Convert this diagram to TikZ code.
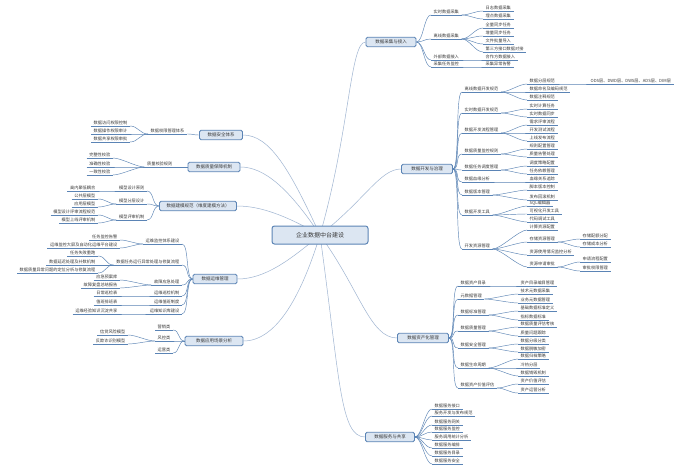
\documentclass[tikz,border=0pt]{standalone}
\usepackage{fontspec}
\setmainfont{Noto Sans CJK SC}
\usetikzlibrary{backgrounds}
\definecolor{lnblue}{HTML}{5B84B5}
\definecolor{boxfill}{HTML}{DCE6F2}
\definecolor{mlinkc}{HTML}{9FB5D1}
\definecolor{txtc}{HTML}{3A3A3A}
\tikzset{
  itm/.style={inner xsep=2.5pt, inner ysep=0.9pt, font=\fontsize{4.2}{5}\selectfont, text=txtc},
  ul/.style={draw=lnblue, line width=0.6pt},
  con/.style={draw=lnblue, line width=0.45pt},
  mbox/.style={draw=lnblue, fill=boxfill, rounded corners=1.5pt, line width=0.8pt,
    font=\fontsize{4.5}{5}\selectfont, text=txtc, minimum height=9.5pt, inner sep=1pt},
  rootbox/.style={draw=lnblue, fill=boxfill, rounded corners=2.5pt, line width=1pt,
    font=\fontsize{6}{7}\selectfont, text=txtc, minimum height=18pt, minimum width=96pt},
  mlk/.style={draw=mlinkc, line width=0.5pt}
}
\newcommand\itR[4]{\node[itm,anchor=south west] (#1) at (#2,#3) {#4};\draw[ul] (#1.south west) -- (#1.south east);}
\newcommand\itL[4]{\node[itm,anchor=south east] (#1) at (#2,#3) {#4};\draw[ul] (#1.south west) -- (#1.south east);}
\newcommand\cnR[2]{\draw[con] (#1.south east) .. controls +(8,0) and +(-8,0) .. (#2.south west);}
\newcommand\cnRB[2]{\draw[con] (#1.east) .. controls +(7,0) and +(-7,0) .. (#2.south west);}
\newcommand\cnL[2]{\draw[con] (#1.south west) .. controls +(-8,0) and +(8,0) .. (#2.south east);}
\newcommand\cnLB[2]{\draw[con] (#1.west) .. controls +(-7,0) and +(7,0) .. (#2.south east);}
\begin{document}
\begin{tikzpicture}[x=1pt,y=-1pt]
\useasboundingbox (0,0) rectangle (700,470);
% root and main boxes
\node[rootbox] (root) at (320,235) {企业数据中台建设};
\node[mbox,minimum width=50pt] (b1) at (391,42) {数据采集与接入};
\node[mbox,minimum width=51pt] (b2) at (427,169) {数据开发与治理};
\node[mbox,minimum width=51pt] (b3) at (423,338) {数据资产化管理};
\node[mbox,minimum width=49pt] (b4) at (390,437) {数据服务与共享};
\node[mbox,minimum width=43pt] (b5) at (221,135) {数据安全体系};
\node[mbox,minimum width=52pt] (b6) at (214,167) {数据质量保障机制};
\node[mbox,minimum width=77pt] (b7) at (198,206) {数据建模规范（维度建模方法）};
\node[mbox,minimum width=44pt] (b8) at (215,279) {数据运维管理};
\node[mbox,minimum width=58pt] (b9) at (214,341) {数据应用场景分析};
% B1
\itR{b1c1}{431}{15}{实时数据采集}
\itR{b1c1a}{483}{11}{日志数据采集}
\itR{b1c1b}{483}{19}{埋点数据采集}
\itR{b1c2}{431}{39}{离线数据采集}
\itR{b1c2a}{483}{28}{全量同步任务}
\itR{b1c2b}{483}{36}{增量同步任务}
\itR{b1c2c}{483}{44}{文件批量导入}
\itR{b1c2d}{483}{52}{第三方接口数据对接}
\itR{b1c3}{431}{60}{外部数据接入}
\itR{b1c3a}{483}{60}{合作方数据接入}
\itR{b1c4}{431}{67}{采集任务监控}
\itR{b1c4a}{483}{67}{采集异常告警}
\cnRB{b1}{b1c1}\cnRB{b1}{b1c2}\cnRB{b1}{b1c3}\cnRB{b1}{b1c4}
\cnR{b1c1}{b1c1a}\cnR{b1c1}{b1c1b}
\cnR{b1c2}{b1c2a}\cnR{b1c2}{b1c2b}\cnR{b1c2}{b1c2c}\cnR{b1c2}{b1c2d}
\cnR{b1c3}{b1c3a}\cnR{b1c4}{b1c4a}
% B2
\itR{b2c1}{462}{92}{离线数据开发规范}
\itR{b2c1a}{527}{84}{数据分层规范}
\itR{b2c1b}{527}{92}{数据命名及编码规范}
\itR{b2c1c}{527}{100}{数据注释规范}
\itR{b2c1ax}{588}{84}{ODS层、DWD层、DWS层、ADS层、DIM层}
\itR{b2c2}{462}{113}{实时数据开发规范}
\itR{b2c2a}{527}{109}{实时计算任务}
\itR{b2c2b}{527}{117}{实时数据同步}
\itR{b2c3}{462}{133}{数据开发流程管理}
\itR{b2c3a}{527}{125}{需求评审流程}
\itR{b2c3b}{527}{133}{开发测试流程}
\itR{b2c3c}{527}{141}{上线发布流程}
\itR{b2c4}{462}{154}{数据质量监控规则}
\itR{b2c4a}{527}{149}{规则配置管理}
\itR{b2c4b}{527}{157}{质量告警处理}
\itR{b2c5}{462}{170}{数据任务调度管理}
\itR{b2c5a}{527}{166}{调度策略配置}
\itR{b2c5b}{527}{174}{任务依赖管理}
\itR{b2c6}{462}{182}{数据血缘分析}
\itR{b2c6a}{527}{182}{血缘关系追踪}
\itR{b2c7}{462}{195}{数据版本管理}
\itR{b2c7a}{527}{190}{脚本版本控制}
\itR{b2c7b}{527}{200}{发布回滚机制}
\itR{b2c8}{462}{215}{数据开发工具}
\itR{b2c8a}{527}{206}{SQL编辑器}
\itR{b2c8b}{527}{214}{可视化开发工具}
\itR{b2c8c}{527}{222}{代码调试工具}
\itR{b2c9}{462}{249}{开发资源管理}
\itR{b2c9a}{527}{230}{计算资源配置}
\itR{b2c9b}{527}{242}{存储资源管理}
\itR{b2c9ba}{580}{239}{存储配额分配}
\itR{b2c9bb}{580}{247}{存储成本分析}
\itR{b2c9c}{527}{255}{资源使用情况监控分析}
\itR{b2c9d}{527}{267}{资源申请审批}
\itR{b2c9da}{580}{262}{申请流程配置}
\itR{b2c9db}{580}{271}{审批权限管理}
\cnRB{b2}{b2c1}\cnRB{b2}{b2c2}\cnRB{b2}{b2c3}\cnRB{b2}{b2c4}\cnRB{b2}{b2c5}
\cnRB{b2}{b2c6}\cnRB{b2}{b2c7}\cnRB{b2}{b2c8}\cnRB{b2}{b2c9}
\cnR{b2c1}{b2c1a}\cnR{b2c1}{b2c1b}\cnR{b2c1}{b2c1c}\cnR{b2c1a}{b2c1ax}
\cnR{b2c2}{b2c2a}\cnR{b2c2}{b2c2b}
\cnR{b2c3}{b2c3a}\cnR{b2c3}{b2c3b}\cnR{b2c3}{b2c3c}
\cnR{b2c4}{b2c4a}\cnR{b2c4}{b2c4b}
\cnR{b2c5}{b2c5a}\cnR{b2c5}{b2c5b}
\cnR{b2c6}{b2c6a}
\cnR{b2c7}{b2c7a}\cnR{b2c7}{b2c7b}
\cnR{b2c8}{b2c8a}\cnR{b2c8}{b2c8b}\cnR{b2c8}{b2c8c}
\cnR{b2c9}{b2c9a}\cnR{b2c9}{b2c9b}\cnR{b2c9}{b2c9c}\cnR{b2c9}{b2c9d}
\cnR{b2c9b}{b2c9ba}\cnR{b2c9b}{b2c9bb}\cnR{b2c9d}{b2c9da}\cnR{b2c9d}{b2c9db}
% B3
\itR{b3c1}{458}{286}{数据资产目录}
\itR{b3c1a}{518}{286}{资产目录编目管理}
\itR{b3c2}{458}{299}{元数据管理}
\itR{b3c2a}{518}{294}{技术元数据采集}
\itR{b3c2b}{518}{303}{业务元数据管理}
\itR{b3c3}{458}{315}{数据标准管理}
\itR{b3c3a}{518}{311}{基础数据标准定义}
\itR{b3c3b}{518}{320}{指标数据标准}
\itR{b3c4}{458}{331}{数据质量管理}
\itR{b3c4a}{518}{327}{数据质量评估考核}
\itR{b3c4b}{518}{336}{质量问题跟踪}
\itR{b3c5}{458}{348}{数据安全管理}
\itR{b3c5a}{518}{344}{数据分级分类}
\itR{b3c5b}{518}{352}{数据脱敏加密}
\itR{b3c6}{458}{368}{数据生命周期}
\itR{b3c6a}{518}{359}{数据归档策略}
\itR{b3c6b}{518}{368}{冷热分层}
\itR{b3c6c}{518}{376}{数据销毁机制}
\itR{b3c7}{458}{388}{数据资产价值评估}
\itR{b3c7a}{518}{384}{资产价值评估}
\itR{b3c7b}{518}{393}{资产运营分析}
\cnRB{b3}{b3c1}\cnRB{b3}{b3c2}\cnRB{b3}{b3c3}\cnRB{b3}{b3c4}\cnRB{b3}{b3c5}\cnRB{b3}{b3c6}\cnRB{b3}{b3c7}
\cnR{b3c1}{b3c1a}
\cnR{b3c2}{b3c2a}\cnR{b3c2}{b3c2b}
\cnR{b3c3}{b3c3a}\cnR{b3c3}{b3c3b}
\cnR{b3c4}{b3c4a}\cnR{b3c4}{b3c4b}
\cnR{b3c5}{b3c5a}\cnR{b3c5}{b3c5b}
\cnR{b3c6}{b3c6a}\cnR{b3c6}{b3c6b}\cnR{b3c6}{b3c6c}
\cnR{b3c7}{b3c7a}\cnR{b3c7}{b3c7b}
% B4
\itR{b4c1}{432}{409}{数据服务接口}
\itR{b4c2}{432}{416}{服务开发与发布规范}
\itR{b4c3}{432}{425}{数据服务网关}
\itR{b4c4}{432}{432}{数据服务监控}
\itR{b4c5}{432}{440}{服务调用统计分析}
\itR{b4c6}{432}{448}{数据服务编排}
\itR{b4c7}{432}{456}{数据服务目录}
\itR{b4c8}{432}{464}{数据服务安全}
\cnRB{b4}{b4c1}\cnRB{b4}{b4c2}\cnRB{b4}{b4c3}\cnRB{b4}{b4c4}
\cnRB{b4}{b4c5}\cnRB{b4}{b4c6}\cnRB{b4}{b4c7}\cnRB{b4}{b4c8}
% B5
\itL{b5c1}{187}{134}{数据权限管理体系}
\itL{b5c1a}{130}{126}{数据访问权限控制}
\itL{b5c1b}{130}{134}{数据操作权限审计}
\itL{b5c1c}{130}{142}{数据共享权限审批}
\cnLB{b5}{b5c1}
\cnL{b5c1}{b5c1a}\cnL{b5c1}{b5c1b}\cnL{b5c1}{b5c1c}
% B6
\itL{b6c1}{175}{167}{质量校验规则}
\itL{b6c1a}{113}{158}{完整性校验}
\itL{b6c1b}{113}{167}{准确性校验}
\itL{b6c1c}{113}{175}{一致性校验}
\cnLB{b6}{b6c1}
\cnL{b6c1}{b6c1a}\cnL{b6c1}{b6c1b}\cnL{b6c1}{b6c1c}
% B7
\itL{b7c1}{147}{191}{模型设计原则}
\itL{b7c1a}{98}{191}{高内聚低耦合}
\itL{b7c2}{147}{204}{模型分层设计}
\itL{b7c2a}{98}{199}{公共层模型}
\itL{b7c2b}{98}{207}{应用层模型}
\itL{b7c3}{147}{220}{模型评审机制}
\itL{b7c3a}{98}{215}{模型设计评审流程规范}
\itL{b7c3b}{98}{223}{模型上线评审机制}
\cnLB{b7}{b7c1}\cnLB{b7}{b7c2}\cnLB{b7}{b7c3}
\cnL{b7c1}{b7c1a}\cnL{b7c2}{b7c2a}\cnL{b7c2}{b7c2b}\cnL{b7c3}{b7c3a}\cnL{b7c3}{b7c3b}
% B8
\itL{b8c1}{182}{244}{运维监控体系建设}
\itL{b8c1a}{120}{240}{任务监控告警}
\itL{b8c1b}{120}{248}{运维监控大屏及自动化运维平台建设}
\itL{b8c2}{182}{265}{数据任务运行异常处理与修复流程}
\itL{b8c2a}{98}{256}{任务失败重跑}
\itL{b8c2b}{98}{265}{数据延迟处理及补数机制}
\itL{b8c2c}{98}{273}{数据质量异常问题的定位分析与修复流程}
\itL{b8c3}{182}{285}{故障应急处理}
\itL{b8c3a}{120}{280}{应急预案库}
\itL{b8c3b}{120}{288}{故障复盘总结报告}
\itL{b8c4}{182}{296}{运维巡检机制}
\itL{b8c4a}{120}{296}{日常巡检表}
\itL{b8c5}{182}{305}{运维值班制度}
\itL{b8c5a}{120}{305}{值班排班表}
\itL{b8c6}{182}{314}{运维知识库建设}
\itL{b8c6a}{120}{314}{运维经验知识沉淀共享}
\cnLB{b8}{b8c1}\cnLB{b8}{b8c2}\cnLB{b8}{b8c3}\cnLB{b8}{b8c4}\cnLB{b8}{b8c5}\cnLB{b8}{b8c6}
\cnL{b8c1}{b8c1a}\cnL{b8c1}{b8c1b}
\cnL{b8c2}{b8c2a}\cnL{b8c2}{b8c2b}\cnL{b8c2}{b8c2c}
\cnL{b8c3}{b8c3a}\cnL{b8c3}{b8c3b}
\cnL{b8c4}{b8c4a}\cnL{b8c5}{b8c5a}\cnL{b8c6}{b8c6a}
% B9
\itL{b9c1}{173}{330}{营销类}
\itL{b9c2}{173}{341}{风控类}
\itL{b9c2a}{128}{335}{信贷风险模型}
\itL{b9c2b}{128}{344}{反欺诈识别模型}
\itL{b9c3}{173}{353}{运营类}
\cnLB{b9}{b9c1}\cnLB{b9}{b9c2}\cnLB{b9}{b9c3}
\cnL{b9c2}{b9c2a}\cnL{b9c2}{b9c2b}
% main links
\begin{pgfonlayer}{background}
\fill[white] (0,0) rectangle (700,470);
\draw[mlk] (root.center) .. controls (350,130) and (350,42) .. (b1.west);
\draw[mlk] (root.center) .. controls (365,200) and (380,169) .. (b2.west);
\draw[mlk] (root.center) .. controls (360,290) and (370,338) .. (b3.west);
\draw[mlk] (root.center) .. controls (340,380) and (340,437) .. (b4.west);
\draw[mlk] (root.center) .. controls (290,170) and (270,135) .. (b5.east);
\draw[mlk] (root.center) .. controls (290,190) and (265,167) .. (b6.east);
\draw[mlk] (root.center) .. controls (285,215) and (260,206) .. (b7.east);
\draw[mlk] (root.center) .. controls (290,260) and (265,279) .. (b8.east);
\draw[mlk] (root.center) .. controls (300,300) and (275,341) .. (b9.east);
\end{pgfonlayer}
\end{tikzpicture}
\end{document}
